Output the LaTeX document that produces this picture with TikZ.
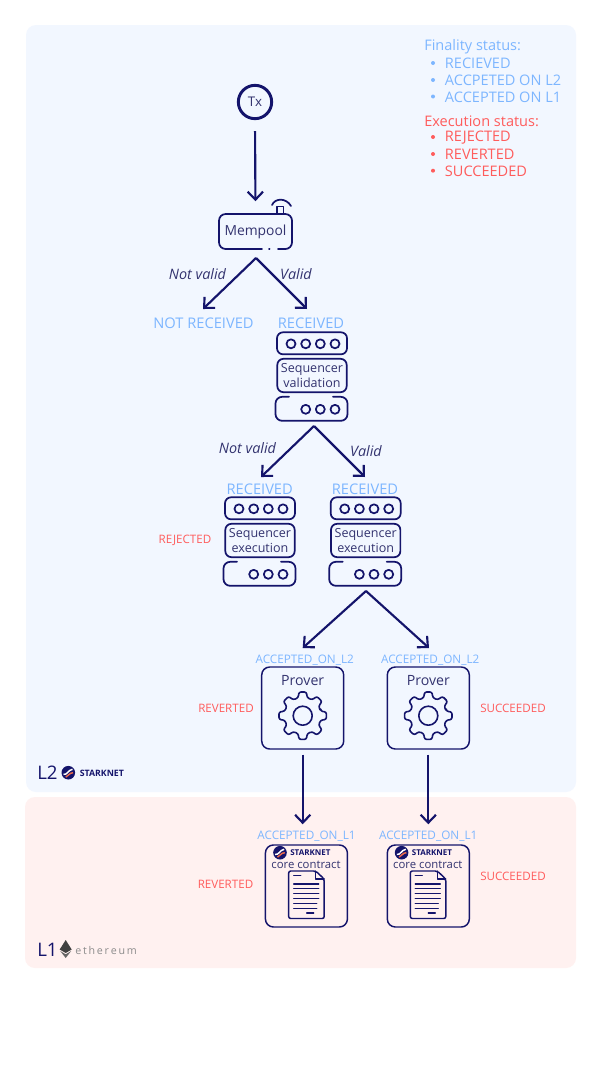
\documentclass[tikz,border=0pt]{standalone}
\usepackage{fontspec}
\setmainfont{Open Sans}
\usetikzlibrary{arrows.meta}

\definecolor{navy}{HTML}{14146B}
\definecolor{labelnavy}{HTML}{33336F}
\definecolor{finblue}{HTML}{7DB6FF}
\definecolor{exred}{HTML}{FF5C5C}
\definecolor{ltwopanel}{HTML}{F2F7FF}
\definecolor{lonepanel}{HTML}{FFF1F0}
\definecolor{swish}{HTML}{EC6A4A}

\tikzset{
  flow/.style={navy, line width=1.6pt, -{Straight Barb[length=6pt,width=11.5pt,line width=1.6pt]}},
  icon/.style={navy, line width=1.3pt, line join=round, line cap=round},
  panel/.style={rounded corners=7.5pt},
  finlabel/.style={text=finblue, font=\fontsize{11pt}{12pt}\selectfont, inner sep=0pt, yshift=-0.6pt},
  smallfin/.style={text=finblue, font=\fontsize{8.8pt}{10pt}\selectfont, inner sep=0pt, yshift=-0.6pt},
  exlabel/.style={text=exred, font=\fontsize{8.7pt}{10pt}\selectfont, inner sep=0pt, yshift=-0.6pt},
  legendfin/.style={text=finblue, font=\fontsize{10.9pt}{12pt}\selectfont, anchor=west, inner sep=0pt, yshift=-0.6pt},
  legendex/.style={text=exred, font=\fontsize{10.9pt}{12pt}\selectfont, anchor=west, inner sep=0pt, yshift=-0.6pt},
  branchlabel/.style={text=labelnavy, font=\fontsize{10.8pt}{12pt}\selectfont\itshape, inner sep=0pt},
  boxlabel/.style={text=labelnavy, align=center, inner sep=0pt, yshift=-0.6pt},
  stackbox/.style={icon, draw, rounded corners=4.5pt, minimum width=52pt, minimum height=25pt,
    align=center, text=labelnavy, inner sep=0pt, font=\fontsize{9.4pt}{11pt}\selectfont},
  jobbox/.style={icon, line width=1.1pt, draw, rounded corners=6pt, minimum width=61.5pt, minimum height=61.5pt, inner sep=0pt},
  logotext/.style={text=navy, font=\fontsize{6pt}{7pt}\selectfont\bfseries, anchor=west, inner sep=0pt},
  % rack of three parts, origin at the top left of the top part
  server/.pic={
    \draw[icon] (0,0) [rounded corners=4.5pt] rectangle (70,22);
    \foreach \x in {14,28.7,43.3,58} \draw[icon] (\x,11.5) circle (4.5);
    \draw[icon, rounded corners=5pt] (12,64.5) -- (-1.5,64.5) -- (-1.5,88.5) -- (70.5,88.5) -- (70.5,64.5) -- (56,64.5);
    \foreach \x in {28.7,43.3,58} \draw[icon] (\x,77) circle (4.5);
  },
  cogwheel/.pic={
    \draw[icon, line width=1.2pt, rounded corners=1.6pt]
      (-14:18.5) \foreach \a in {0,45,...,315} {
        -- (\a-14:18.5) -- (\a-9:24) -- (\a+9:24) -- (\a+14:18.5)
      } -- cycle;
    \draw[icon, line width=1.2pt] (0,0) circle (9.5);
  },
  % sheet, origin at its top left corner
  sheet/.pic={
    \draw[icon, line width=1.1pt, rounded corners=1.5pt] (0,0) -- (27,0) -- (35.5,8) -- (35.5,47.5) -- (0,47.5) -- cycle;
    \draw[icon, line width=0.9pt] (27,0) -- (27,8) -- (35.5,8);
    \draw[icon, line width=1pt] (5,4.7) -- (12,4.7);
    \foreach \y/\e in {13/30,17.3/30,22.3/30,27.3/30,32.3/28,37.3/28} \draw[icon, line width=1pt] (5,\y) -- (\e,\y);
    \draw[icon, line width=1pt] (18,42) -- (25,42);
  },
  starklogo/.pic={
    \fill[navy] (0,0) circle (6.8);
    \draw[white, line width=1.1pt] (-4.8,1.6) .. controls (-1.5,3) and (0,-3) .. (4.2,-3.4);
    \draw[swish, line width=1.1pt] (-2.5,4.4) .. controls (0,3.5) and (1,0) .. (4.8,0);
  }
}

\begin{document}
\begin{tikzpicture}[x=0.75pt, y=-0.75pt]
  \useasboundingbox[fill=white] (0,0) rectangle (600,1067);

  \fill[ltwopanel, panel] (26,25) rectangle (576,792);
  \fill[lonepanel, panel] (25,797) rectangle (576,968);

  % legend
  \node[legendfin] (finhead) at (424,46) {Finality status:};
  \node[legendfin] (finone) at (444.7,63) {RECIEVED};
  \node[legendfin] (fintwo) at (444.7,80) {ACCPETED ON L2};
  \node[legendfin] (finthree) at (444.7,96.5) {ACCEPTED ON L1};
  \node[legendex] (exhead) at (424,120.7) {Execution status:};
  \node[legendex] (exone) at (444.7,137) {REJECTED};
  \node[legendex] (extwo) at (444.7,154) {REVERTED};
  \node[legendex] (exthree) at (444.7,170.7) {SUCCEEDED};
  \foreach \y in {63,80,96.5} \fill[finblue] (433,\y) circle (2);
  \foreach \y in {137,154,170.7} \fill[exred] (433,\y) circle (2);

  % tx and mempool
  \node[circle, draw=navy, line width=2.2pt, minimum size=25pt, inner sep=0pt, text=labelnavy,
    font=\fontsize{10pt}{12pt}\selectfont] (tx) at (255,102) {Tx};
  \draw[icon, rounded corners=5pt] (262,249) -- (219,249) -- (219,214) -- (292,214) -- (292,249) -- (278,249);
  \draw[icon] (269,249) -- (269.6,249);
  \draw[icon] (277,214) -- (277,206.5) -- (283.5,206.5) -- (283.5,214);
  \draw[icon] (272,205) .. controls (275,198) and (286,197.5) .. (291,206);
  \node[boxlabel, font=\fontsize{10.4pt}{12pt}\selectfont, minimum width=54.75pt, minimum height=26.25pt] (mempool) at (255.5,231.5) {Mempool};
  \draw[flow, shorten <=8.3pt, shorten >=10pt] (tx.south) -- (mempool.north);

  \coordinate (mempoolout) at (256,258);
  \coordinate (notrecvin) at (203,309);
  \coordinate (recvin) at (307,309);
  \draw[flow] (mempoolout) -- (notrecvin);
  \draw[flow] (mempoolout) -- (recvin);
  \node[branchlabel] (mempoolno) at (197.5,274) {Not valid};
  \node[branchlabel] (mempoolyes) at (296,274) {Valid};
  \node[finlabel] (notrecv) at (203.5,322) {NOT RECEIVED};
  \node[finlabel] (recv) at (311,322) {RECEIVED};

  % sequencer validation
  \pic at (277,332.3) {server};
  \node[stackbox] (seqval) at (312,375.5) {Sequencer\\validation};

  \coordinate (seqvalout) at (314,426);
  \coordinate (rejectin) at (261,477);
  \coordinate (execin) at (365,477);
  \draw[flow] (seqvalout) -- (rejectin);
  \draw[flow] (seqvalout) -- (execin);
  \node[branchlabel] (seqvalno) at (247.5,448) {Not valid};
  \node[branchlabel] (seqvalyes) at (366,451) {Valid};
  \node[finlabel] (recvleft) at (259.7,488) {RECEIVED};
  \node[finlabel] (recvright) at (365,488) {RECEIVED};

  % sequencer execution
  \pic at (225,497.3) {server};
  \pic at (330.7,497.3) {server};
  \node[stackbox] (execleft) at (260,540.5) {Sequencer\\execution};
  \node[stackbox] (execright) at (365.7,540.5) {Sequencer\\execution};
  \node[exlabel] (rejected) at (185,540) {REJECTED};

  \coordinate (execout) at (366,591);
  \coordinate (proverleftin) at (302.7,648);
  \coordinate (proverrightin) at (429,648);
  \draw[flow] (execout) -- (proverleftin);
  \draw[flow] (execout) -- (proverrightin);
  \node[smallfin] (accleft) at (304.7,659) {ACCEPTED\_ON\_L2};
  \node[smallfin] (accright) at (430.2,659) {ACCEPTED\_ON\_L2};

  % prover
  \node[jobbox] (proverleft) at (302.7,708) {};
  \node[jobbox] (proverright) at (428.3,708) {};
  \node[boxlabel, font=\fontsize{10.6pt}{12pt}\selectfont] (provertextleft) at (302.7,680) {Prover};
  \node[boxlabel, font=\fontsize{10.6pt}{12pt}\selectfont] (provertextright) at (428.3,680) {Prover};
  \pic at (302.7,715.7) {cogwheel};
  \pic at (428.3,715.7) {cogwheel};
  \node[exlabel] (revleft) at (226,708) {REVERTED};
  \node[exlabel] (sucright) at (513,708) {SUCCEEDED};

  % core contract
  \node[jobbox] (coreleft) at (306.4,886) {};
  \node[jobbox] (coreright) at (428.3,886) {};
  \draw[flow, shorten <=3.75pt, shorten >=15pt] (proverleft.south) -- (proverleft.south |- coreleft.north);
  \draw[flow, shorten <=3.75pt, shorten >=15pt] (proverright.south) -- (coreright.north);
  \node[smallfin] (coreaccleft) at (306.5,835.7) {ACCEPTED\_ON\_L1};
  \node[smallfin] (coreaccright) at (428.2,835.7) {ACCEPTED\_ON\_L1};
  \pic at (280,852.7) {starklogo};
  \pic at (401.6,852.7) {starklogo};
  \node[logotext] (starkleft) at (290,853) {STARKNET};
  \node[logotext] (starkright) at (411.6,853) {STARKNET};
  \node[boxlabel, font=\fontsize{8.5pt}{10pt}\selectfont] (coretextleft) at (306,864) {core contract};
  \node[boxlabel, font=\fontsize{8.5pt}{10pt}\selectfont] (coretextright) at (427.8,864) {core contract};
  \pic at (288.7,871) {sheet};
  \pic at (410.3,871) {sheet};
  \node[exlabel] (revcore) at (225.5,883.3) {REVERTED};
  \node[exlabel] (succore) at (513,876) {SUCCEEDED};

  % panel names
  \node[text=navy, font=\fontsize{14pt}{16pt}\selectfont, anchor=west, inner sep=0pt] (ltwo) at (37,773) {L2};
  \pic at (68.3,772.7) {starklogo};
  \node[logotext, font=\fontsize{6.6pt}{8pt}\selectfont\bfseries] (ltwostark) at (79.5,773) {STARKNET};
  \node[text=navy, font=\fontsize{14pt}{16pt}\selectfont, anchor=west, inner sep=0pt] (lone) at (37,950) {L1};
  \fill[black!75] (65.7,940) -- (71.7,949.5) -- (65.7,953) -- (59.7,949.5) -- cycle;
  \fill[black!60] (65.7,958) -- (71.2,951) -- (65.7,954.3) -- (60.2,951) -- cycle;
  \node[text=black!45, font=\fontsize{8pt}{10pt}\selectfont, anchor=west, inner sep=0pt] (loneeth) at (75,950) {e\,t\,h\,e\,r\,e\,u\,m};
\end{tikzpicture}
\end{document}
